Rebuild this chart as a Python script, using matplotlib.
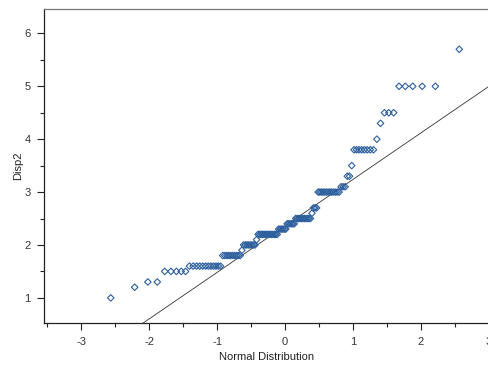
import matplotlib
matplotlib.use("Agg")
import matplotlib.pyplot as plt
import numpy as np
from statistics import NormalDist

# engine displacement (litres), sorted levels and how many cars share each
disp_levels = [1.0, 1.2, 1.3, 1.5, 1.6, 1.8, 1.9, 2.0, 2.1, 2.2, 2.3, 2.4, 2.5,
               2.6, 2.7, 3.0, 3.1, 3.3, 3.5, 3.8, 4.0, 4.3, 4.5, 5.0, 5.7]
level_counts = [1, 1, 2, 5, 12, 10, 1, 8, 1, 14, 6, 6, 11,
                1, 3, 13, 3, 2, 1, 8, 1, 1, 3, 5, 1]

# reference line
line_mu = 2.36
line_sigma = 0.88

disp2 = np.sort(np.repeat(disp_levels, level_counts))
n = len(disp2)
nd = NormalDist()
# Blom normal scores, as a QQ plot does
qq = np.array([nd.inv_cdf((i - 0.375) / (n + 0.25)) for i in range(1, n + 1)])

plt.rcParams['font.family'] = ['Liberation Sans', 'DejaVu Sans']
plt.rcParams['axes.unicode_minus'] = False

fig = plt.figure(figsize=(4.89, 3.67), dpi=100)
ax = fig.add_axes([0.0906, 0.1207, 0.9094, 0.856])

xlim = (-3.54, 3.0)
ax.plot(xlim, [line_mu + line_sigma * xlim[0], line_mu + line_sigma * xlim[1]],
        color='#333333', lw=0.6, zorder=1)
ax.scatter(qq, disp2, marker='D', s=11, facecolors='none',
           edgecolors='#2c5f9e', linewidths=0.8, zorder=2)

ax.set_xlim(*xlim)
ax.set_ylim(0.53, 6.47)
ax.set_xticks([-3, -2, -1, 0, 1, 2, 3])
ax.set_xticks(np.arange(-3.5, 3.01, 0.5), minor=True)
ax.set_yticks([1, 2, 3, 4, 5, 6])
ax.set_yticks(np.arange(1.5, 6.01, 1.0), minor=True)

ax.spines['right'].set_visible(False)
for s in ['left', 'bottom']:
    ax.spines[s].set_color('#222222')
    ax.spines[s].set_linewidth(0.9)
ax.spines['top'].set_color('#777777')
ax.spines['top'].set_linewidth(0.9)

ax.tick_params(which='major', length=5, width=0.8, color='#222222',
               labelsize=8, labelcolor='#333333', pad=5)
ax.tick_params(which='minor', length=3, width=0.8, color='#222222')

ax.set_xlabel('Normal Distribution', fontsize=8, color='#222222', labelpad=4)
ax.set_ylabel('Disp2', fontsize=8, color='#222222', labelpad=1)

fig.savefig('out.png', dpi=100)
